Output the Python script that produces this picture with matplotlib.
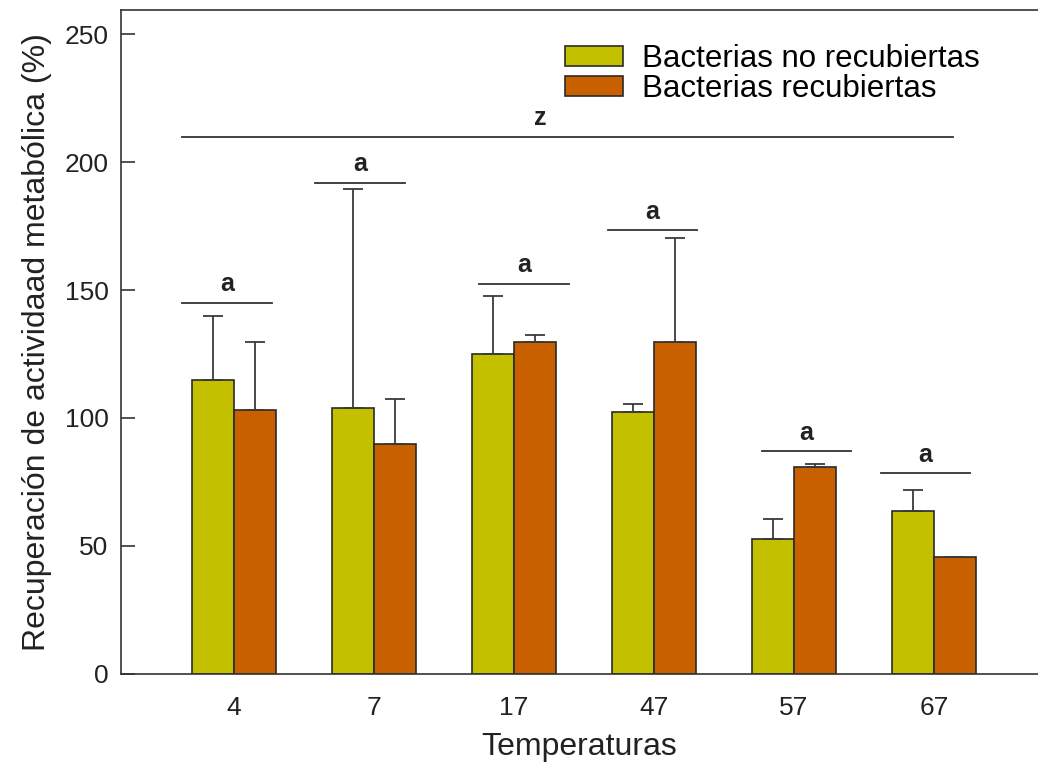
import matplotlib
matplotlib.use("Agg")
import matplotlib.pyplot as plt
import numpy as np

plt.rcParams['font.family'] = ['Liberation Sans', 'DejaVu Sans']

# Data
temperatures = ["4", "7", "17", "47", "57", "67"]
uncoated = [115, 104, 125, 102.5, 52.5, 63.5]
uncoated_err = [25, 85.5, 22.5, 3, 8, 8.5]
coated = [103, 90, 129.5, 129.5, 81, 45.5]
coated_err = [26.5, 17.5, 3, 41, 0.8, 0]

# Significance letters per temperature group
sig_letters = ["a", "a", "a", "a", "a", "a"]
sig_levels = [145, 192, 152.5, 173.5, 87, 78.5]
sig_centers = [-0.05, 0.9, 2.07, 2.99, 4.09, 4.94]
overall_letter = "z"
overall_level = 210

green = "#c3c000"
orange = "#c96000"
edge = "#2a2a2a"
ink = "#222222"

W, H = 1038, 776
fig = plt.figure(figsize=(W / 100, H / 100), dpi=100)
ax = fig.add_axes([121 / W, 1 - 673.7 / H, 1 - 121 / W, (673.7 - 10) / H])

x = np.arange(len(temperatures))
bw = 0.3

ax.bar(x - bw / 2, uncoated, bw, color=green, edgecolor=edge, linewidth=1.2,
       label="Bacterias no recubiertas", zorder=2)
ax.bar(x + bw / 2, coated, bw, color=orange, edgecolor=edge, linewidth=1.2,
       label="Bacterias recubiertas", zorder=2)

zeros = np.zeros(len(x))
ax.errorbar(x - bw / 2, uncoated, yerr=[zeros, uncoated_err], fmt="none",
            ecolor="#3a3a3a", elinewidth=1.3, capsize=7.5, capthick=1.3, zorder=3)
ax.errorbar(x + bw / 2, coated, yerr=[zeros, coated_err], fmt="none",
            ecolor="#3a3a3a", elinewidth=1.3, capsize=7.5, capthick=1.3, zorder=3)

# Significance brackets
half = 0.32
for c, lvl, letter in zip(sig_centers, sig_levels, sig_letters):
    ax.plot([c - half, c + half], [lvl, lvl], color="#333333", lw=1.3, zorder=3)
    ax.text(c, lvl + 2.5, letter, ha="center", va="bottom", fontsize=18,
            fontweight="bold", color=ink)
ax.plot([-0.371, 5.136], [overall_level, overall_level], color="#333333",
        lw=1.3, zorder=3)
ax.text(2.19, overall_level + 2.5, overall_letter, ha="center", va="bottom",
        fontsize=18, fontweight="bold", color=ink)

ax.set_xlim(-0.807, 5.743)
ax.set_ylim(0, 259.5)
ax.set_yticks([0, 50, 100, 150, 200, 250])
ax.set_xticks(x)
ax.set_xticklabels(temperatures)

ax.tick_params(axis="y", direction="in", length=10, width=1.2, colors="#333333",
               labelsize=19, labelcolor=ink, pad=9)
ax.tick_params(axis="x", length=0, labelsize=19, labelcolor=ink, pad=16)

for side in ["left", "bottom", "top"]:
    ax.spines[side].set_linewidth(1.2)
    ax.spines[side].set_color("#333333")
ax.spines["right"].set_visible(False)

ax.set_xlabel("Temperaturas", fontsize=23, color=ink, labelpad=9)
ax.set_ylabel("Recuperación de actividaad metabólica (%)", fontsize=23,
              color=ink, labelpad=9)

ax.legend(loc="upper left", bbox_to_anchor=(565 / W, 1 - 44 / H),
          bbox_transform=fig.transFigure, frameon=False, fontsize=22.5,
          handlelength=1.85, handleheight=0.6, handletextpad=0.6,
          labelspacing=0.0, borderpad=0, borderaxespad=0)

fig.savefig("out.png", dpi=100)
